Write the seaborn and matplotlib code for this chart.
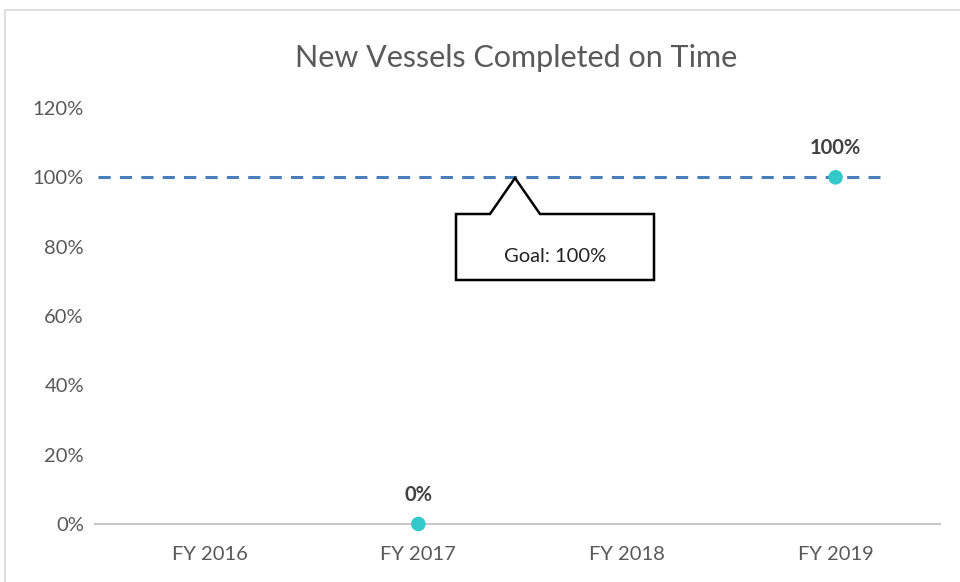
import matplotlib
matplotlib.use('Agg')
import matplotlib.pyplot as plt
import matplotlib.transforms as mtransforms
import seaborn as sns
import pandas as pd
from matplotlib.patches import Rectangle, Polygon

# chart data
years = ['FY 2016', 'FY 2017', 'FY 2018', 'FY 2019']
on_time = [None, 0.0, None, 1.0]
goal = 1.0
y_ticks = [0, 0.2, 0.4, 0.6, 0.8, 1.0, 1.2]
y_tick_labels = ['0%', '20%', '40%', '60%', '80%', '100%', '120%']

sns.set_theme(style='white')
plt.rcParams['font.family'] = ['Lato', 'DejaVu Sans']

df = pd.DataFrame({'year': years, 'pct': on_time})
df['pos'] = range(len(years))
pts = df.dropna()

fig = plt.figure(figsize=(9.6, 5.82), dpi=100)
ax = fig.add_axes([0.099, 0.0997, 0.88, 0.7147])

# outer chart border
fig.patches.append(Rectangle((5 / 960, -0.1), 1.2, (1 - 10 / 582) + 0.1,
                             transform=fig.transFigure, fill=False,
                             edgecolor='#d9d9d9', linewidth=1.2))

# goal line
ax.axhline(goal, xmin=0.003, xmax=0.929, color='#4a7ebb', linestyle=(0, (4, 3)),
           linewidth=2.2, zorder=2)

sns.scatterplot(data=pts, x='pos', y='pct', ax=ax, color='#33c9c9', s=110,
                edgecolor='none', zorder=4, legend=False, clip_on=False)

ax.set_xlim(-0.55, 3.5)
ax.set_ylim(0, 1.2)
ax.set_xticks(df['pos'])
ax.set_xticklabels(years)
ax.set_yticks(y_ticks)
ax.set_yticklabels(y_tick_labels)
ax.set_xlabel('')
ax.set_ylabel('')
ax.tick_params(axis='both', length=0, labelsize=14.5, labelcolor='#595959')
ax.tick_params(axis='y', pad=8)
ax.tick_params(axis='x', pad=16)
for side in ['top', 'right', 'left']:
    ax.spines[side].set_visible(False)
ax.spines['bottom'].set_color('#c8c8c8')
ax.spines['bottom'].set_linewidth(1.5)

# data labels
for _, r in pts.iterrows():
    ax.annotate(f"{r['pct']:.0%}", (r['pos'], r['pct']), xytext=(0, 14),
                textcoords='offset points', ha='center', va='bottom',
                fontsize=14.5, fontweight='bold', color='#404040')

# callout for goal (pixel coords, y from top)
callout = Polygon([(456, 214), (490, 214), (515, 178), (540, 214), (654, 214),
                   (654, 280), (456, 280)], closed=True,
                  facecolor='white', edgecolor='black', linewidth=1.8, zorder=5)
callout.set_transform(mtransforms.Affine2D().scale(1, -1).translate(0, 582))
fig.patches.append(callout)
fig.text(555 / 960, 1 - 256 / 582, 'Goal: 100%', ha='center', va='center',
         fontsize=14.5, color='#222222', zorder=6)

fig.text(516 / 960, 1 - 58 / 582, 'New Vessels Completed on Time', ha='center',
         va='center', fontsize=22, color='#595959')

fig.savefig('out.png', dpi=100)
